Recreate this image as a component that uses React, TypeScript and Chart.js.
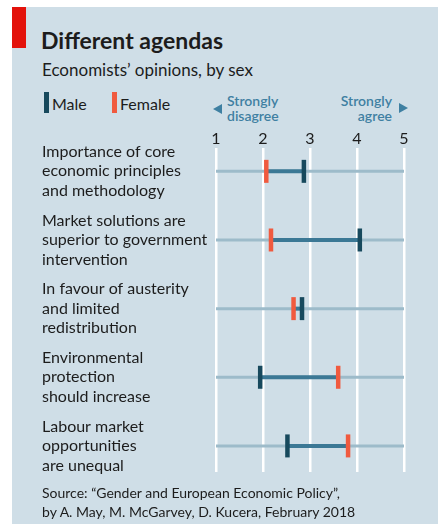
import React, { useEffect, useRef } from "react";
import { Chart, registerables } from "chart.js";

Chart.register(...registerables);

const categories: string[][] = [
  ["Importance of core", "economic principles", "and methodology"],
  ["Market solutions are", "superior to government", "intervention"],
  ["In favour of austerity", "and limited", "redistribution"],
  ["Environmental", "protection", "should increase"],
  ["Labour market", "opportunities", "are unequal"],
];
const maleValues = [2.87, 4.06, 2.83, 1.94, 2.52];
const femaleValues = [2.07, 2.17, 2.65, 3.6, 3.81];
const xTicks = [1, 2, 3, 4, 5];

const FONT = "Lato, 'Noto Sans', sans-serif";
const BG = "#cfdee7";
const MALE = "#17495d";
const FEMALE = "#f05a3f";
const CONNECT = "#3b7895";
const ROWLINE = "#9dbbca";
const TEXT = "#1c1c1c";
const BLUE_TEXT = "#3f80a2";

function DumbbellChart() {
  const ref = useRef<HTMLCanvasElement | null>(null);
  useEffect(() => {
    if (!ref.current) return;
    const rowDatasets = categories.map((_, i) => ({
      type: "line" as const,
      data: [
        { x: xTicks[0], y: i },
        { x: xTicks[xTicks.length - 1], y: i },
      ],
      showLine: true,
      borderColor: ROWLINE,
      borderWidth: 3,
      pointRadius: 0,
      pointHoverRadius: 0,
      order: 3,
    }));
    const connDatasets = categories.map((_, i) => ({
      type: "line" as const,
      data: [
        { x: Math.min(maleValues[i], femaleValues[i]), y: i },
        { x: Math.max(maleValues[i], femaleValues[i]), y: i },
      ],
      showLine: true,
      borderColor: CONNECT,
      borderWidth: 4,
      pointRadius: 0,
      pointHoverRadius: 0,
      order: 2,
    }));
    const chart = new Chart(ref.current, {
      type: "scatter",
      data: {
        datasets: [
          {
            label: "Male",
            data: maleValues.map((v, i) => ({ x: v, y: i })),
            pointStyle: "line",
            pointRotation: 90,
            pointRadius: 11.5,
            pointHoverRadius: 11.5,
            pointBorderWidth: 4.5,
            pointHoverBorderWidth: 4.5,
            pointBorderColor: MALE,
            borderColor: MALE,
            backgroundColor: MALE,
            order: 0,
          } as any,
          {
            label: "Female",
            data: femaleValues.map((v, i) => ({ x: v, y: i })),
            pointStyle: "line",
            pointRotation: 90,
            pointRadius: 11.5,
            pointHoverRadius: 11.5,
            pointBorderWidth: 4.5,
            pointHoverBorderWidth: 4.5,
            pointBorderColor: FEMALE,
            borderColor: FEMALE,
            backgroundColor: FEMALE,
            order: 1,
          } as any,
          ...connDatasets,
          ...rowDatasets,
        ],
      },
      options: {
        responsive: false,
        animation: false,
        events: [],
        layout: { padding: { top: 0, right: 16, bottom: 0, left: 0 } },
        plugins: { legend: { display: false }, tooltip: { enabled: false } },
        scales: {
          x: {
            type: "linear",
            position: "top",
            min: xTicks[0],
            max: xTicks[xTicks.length - 1],
            afterBuildTicks: (s: any) => {
              s.ticks = xTicks.map((v) => ({ value: v }));
            },
            afterFit: (s: any) => {
              s.height = 20;
            },
            ticks: {
              color: TEXT,
              padding: 0,
              font: { family: FONT, size: 16 },
              callback: (v: any) => String(v),
            },
            grid: { color: "#ffffff", lineWidth: 2.5, drawTicks: false },
            border: { display: false },
          },
          y: {
            type: "linear",
            reverse: true,
            min: -0.34,
            max: 4.38,
            afterBuildTicks: (s: any) => {
              s.ticks = categories.map((_, i) => ({ value: i }));
            },
            afterFit: (s: any) => {
              s.width = 174;
              s.paddingTop = 0;
              s.paddingBottom = 0;
            },
            ticks: {
              color: TEXT,
              padding: 0,
              autoSkip: false,
              crossAlign: "far",
              font: { family: FONT, size: 16, lineHeight: 19.5 / 16 },
              callback: (v: any) => categories[Math.round(Number(v))] || "",
            },
            grid: { display: false },
            border: { display: false },
          },
        },
      } as any,
    });
    return () => chart.destroy();
  }, []);
  return (
    <canvas
      ref={ref}
      width={378}
      height={360}
      style={{ position: "absolute", left: 42, top: 128, width: 378, height: 360 }}
    />
  );
}

export default function App() {
  const abs = (s: React.CSSProperties): React.CSSProperties => ({
    position: "absolute",
    whiteSpace: "nowrap",
    ...s,
  });
  return (
    <div
      style={{
        position: "absolute",
        left: 0,
        top: 0,
        width: 441,
        height: 524,
        background: "#ffffff",
        overflow: "hidden",
        fontFamily: FONT,
        color: TEXT,
      }}
    >
      <div style={abs({ left: 12, top: 7, width: 426, height: 517, background: BG })} />
      <div style={abs({ left: 12, top: 7, width: 14, height: 41, background: "#e3120b" })} />
      <div style={abs({ left: 41, top: 28.5, fontSize: 23, lineHeight: "23px", fontWeight: 700 })}>
        Different agendas
      </div>
      <div style={abs({ left: 42, top: 61, fontSize: 17, lineHeight: "17px" })}>
        Economists’ opinions, by sex
      </div>
      {/* legend */}
      <div style={abs({ left: 44, top: 92, width: 4.5, height: 21, background: MALE })} />
      <div style={abs({ left: 52, top: 96, fontSize: 16, lineHeight: "16px" })}>Male</div>
      <div style={abs({ left: 112, top: 92, width: 4.5, height: 21, background: FEMALE })} />
      <div style={abs({ left: 120, top: 96, fontSize: 16, lineHeight: "16px" })}>Female</div>
      {/* strongly disagree */}
      <div
        style={abs({
          left: 213,
          top: 104,
          width: 0,
          height: 0,
          borderTop: "5.5px solid transparent",
          borderBottom: "5.5px solid transparent",
          borderRight: `9px solid ${BLUE_TEXT}`,
        })}
      />
      <div
        style={abs({
          left: 227,
          top: 93,
          fontSize: 14,
          lineHeight: "15px",
          fontWeight: 600,
          color: BLUE_TEXT,
        })}
      >
        Strongly
        <br />
        disagree
      </div>
      {/* strongly agree */}
      <div
        style={abs({
          right: 441 - 392,
          top: 93,
          fontSize: 14,
          lineHeight: "15px",
          fontWeight: 600,
          color: BLUE_TEXT,
          textAlign: "right",
        })}
      >
        Strongly
        <br />
        agree
      </div>
      <div
        style={abs({
          left: 399,
          top: 103,
          width: 0,
          height: 0,
          borderTop: "5.5px solid transparent",
          borderBottom: "5.5px solid transparent",
          borderLeft: `9px solid ${BLUE_TEXT}`,
        })}
      />
      <DumbbellChart />
      <div style={abs({ left: 42, top: 483, fontSize: 14, lineHeight: "19px" })}>
        Source: “Gender and European Economic Policy”,
        <br />
        by A. May, M. McGarvey, D. Kucera, February 2018
      </div>
    </div>
  );
}
